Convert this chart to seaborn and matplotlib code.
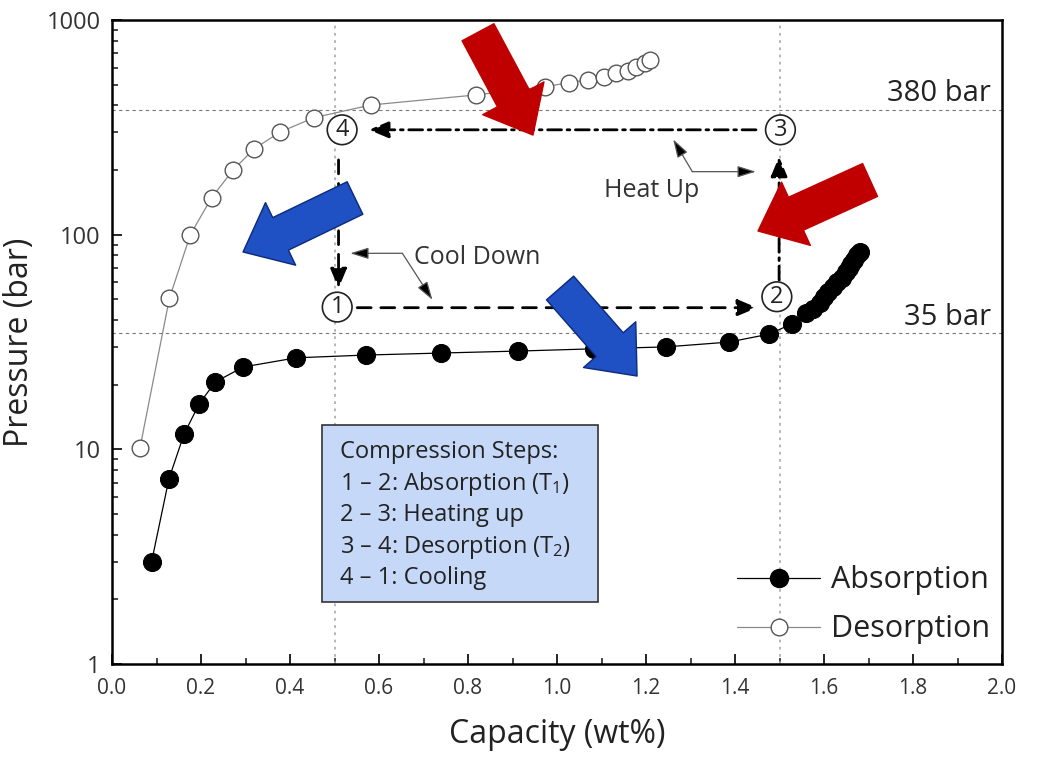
import numpy as np
import pandas as pd
import matplotlib
matplotlib.use("Agg")
import matplotlib.pyplot as plt
from matplotlib.lines import Line2D
from matplotlib.patches import Rectangle
from matplotlib.ticker import LogLocator, FuncFormatter, MultipleLocator
import seaborn as sns

# ---------------- data ----------------
abs_capacity = [0.089, 0.128, 0.162, 0.196, 0.232, 0.295, 0.414, 0.571, 0.740, 0.913,
                1.082, 1.244, 1.386, 1.476, 1.528,
                1.560, 1.575, 1.590, 1.600, 1.610, 1.620, 1.630, 1.640, 1.650, 1.655,
                1.660, 1.667, 1.673, 1.680]
abs_pressure = [3.0, 7.3, 11.8, 16.3, 20.6, 24.2, 26.7, 27.5, 28.1, 28.7,
                29.4, 30.0, 31.6, 34.4, 38.4,
                43, 45, 48, 51, 54, 57, 60, 63, 67, 70,
                73, 76, 80, 83]

des_capacity = [0.063, 0.129, 0.176, 0.224, 0.272, 0.319, 0.378, 0.454, 0.582, 0.819,
                0.972, 1.028, 1.069, 1.106, 1.133, 1.159, 1.178, 1.198, 1.209]
des_pressure = [10.2, 50.6, 100, 149, 200, 251, 301, 351, 402, 448,
                489, 511, 526, 545, 565, 581, 606, 632, 652]

ref_pressures = [380, 35]
ref_labels = ["380 bar", "35 bar"]
ref_capacities = [0.5, 1.5]

x_ticks = [0.0, 0.2, 0.4, 0.6, 0.8, 1.0, 1.2, 1.4, 1.6, 1.8, 2.0]
y_ticks = [1, 10, 100, 1000]

steps_text = ["Compression Steps:",
              r"1 – 2: Absorption (T$_1$)",
              "2 – 3: Heating up",
              r"3 – 4: Desorption (T$_2$)",
              "4 – 1: Cooling"]

# ---------------- style ----------------
sns.set_style("ticks")
plt.rcParams['font.family'] = ['Open Sans', 'DejaVu Sans']
plt.rcParams['mathtext.default'] = 'regular'

fig = plt.figure(figsize=(10.45, 7.76), dpi=100)
ax = fig.add_axes([0.1072, 0.1443, 0.8517, 0.8299])

df_abs = pd.DataFrame({"Capacity": abs_capacity, "Pressure": abs_pressure})
df_des = pd.DataFrame({"Capacity": des_capacity, "Pressure": des_pressure})

sns.lineplot(data=df_des, x="Capacity", y="Pressure", ax=ax, sort=False, estimator=None,
             color="#8a8a8a", lw=0.9, marker="o", markersize=12,
             markerfacecolor="white", markeredgecolor="#555555", markeredgewidth=1.0, zorder=3)
sns.lineplot(data=df_abs, x="Capacity", y="Pressure", ax=ax, sort=False, estimator=None,
             color="black", lw=0.9, marker="o", markersize=13,
             markerfacecolor="black", markeredgecolor="black", zorder=4)

ax.set_yscale("log")
ax.set_xlim(0, 2.0)
ax.set_ylim(1, 1000)

# reference lines
for p in ref_pressures:
    ax.axhline(p, color="#777777", lw=0.8, ls=(0, (3, 3)), zorder=1)
for c in ref_capacities:
    ax.axvline(c, color="#b0b0b0", lw=1.3, ls=(0, (1.5, 2.5)), zorder=1)
ax.text(1.975, 455, ref_labels[0], ha="right", va="center", fontsize=21, color="#222222")
ax.text(1.975, 41.0, ref_labels[1], ha="right", va="center", fontsize=21, color="#222222")

# ticks and spines
ax.set_xticks(x_ticks)
ax.xaxis.set_minor_locator(MultipleLocator(0.1))
ax.set_xticklabels([f"{v:.1f}" for v in x_ticks])
ax.set_yticks(y_ticks)
ax.yaxis.set_minor_locator(LogLocator(base=10, subs=np.arange(2, 10)))
ax.yaxis.set_major_formatter(FuncFormatter(lambda v, pos: f"{int(v)}"))
ax.tick_params(axis="both", which="major", direction="in", length=7, width=1.2,
               top=False, right=False, colors="black")
ax.tick_params(axis="both", which="minor", direction="in", length=4.5, width=1.2,
               top=False, right=False)
ax.tick_params(axis="y", labelsize=17, labelcolor="#333333", pad=8)
ax.tick_params(axis="x", labelsize=15, labelcolor="#333333", pad=10)
for s in ax.spines.values():
    s.set_visible(True)
    s.set_linewidth(1.8)
    s.set_color("black")

ax.set_xlabel("Capacity (wt%)", fontsize=23, color="#222222", labelpad=14)
ax.set_ylabel("Pressure (bar)", fontsize=23, color="#222222", labelpad=8)

# ---------------- cycle diagram ----------------
def cyc_arrow(x0, y0, x1, y1, ls):
    ax.annotate("", xy=(x1, y1), xytext=(x0, y0),
                arrowprops=dict(arrowstyle="-|>,head_length=0.6,head_width=0.25", lw=2.0,
                                ls=ls, color="black", shrinkA=0, shrinkB=0,
                                mutation_scale=20), zorder=5)

cyc_arrow(0.551, 45.7, 1.450, 45.7, (0, (5, 3.5)))
cyc_arrow(1.499, 61.5, 1.499, 231, (0, (5, 2, 1, 2)))
cyc_arrow(1.447, 308, 0.577, 308, (0, (5, 2, 1, 2)))
cyc_arrow(0.509, 223, 0.509, 56.2, (0, (5, 3.5)))

circ = dict(boxstyle="circle,pad=0.12", fc="white", ec="#222222", lw=1.2)
for lab, cx, cy in [("1", 0.506, 46.0), ("2", 1.494, 51.4), ("3", 1.502, 308), ("4", 0.517, 308)]:
    ax.text(cx, cy, lab, ha="center", va="center", fontsize=17, color="#222222",
            bbox=circ, zorder=6)

# pointer annotations
def pointer(vx, vy, hx, hy):
    ax.annotate("", xy=(hx, hy), xytext=(vx, vy),
                arrowprops=dict(arrowstyle="-|>,head_length=0.8,head_width=0.25",
                                lw=0.9, color="#777777", fc="black", ec="#555555",
                                shrinkA=0, shrinkB=0, mutation_scale=14), zorder=5)

pointer(1.304, 196.6, 1.261, 278)
pointer(1.304, 196.6, 1.4466, 196.6)
pointer(0.6524, 81.9, 0.5354, 81.9)
pointer(0.6524, 81.9, 0.720, 49.7)
ax.text(1.2126, 161, "Heat Up", ha="center", va="center", fontsize=18, color="#333333")
ax.text(0.678, 77.9, "Cool Down", ha="left", va="center", fontsize=18, color="#333333")

# big block arrows (axes fraction)
def block(tail, tip, fc, ec):
    ax.annotate("", xy=tip, xytext=tail, xycoords="axes fraction", textcoords="axes fraction",
                arrowprops=dict(arrowstyle="simple,head_length=3.0,head_width=5.0,tail_width=2.6",
                                fc=fc, ec=ec, lw=1.0, shrinkA=0, shrinkB=0, mutation_scale=10),
                annotation_clip=False, zorder=7)

block((0.4112, 0.981), (0.473, 0.8214), "#C00000", "#C00000")
block((0.8517, 0.7516), (0.7258, 0.6724), "#C00000", "#C00000")
block((0.273, 0.7236), (0.1472, 0.6398), "#1F50C4", "#0D2A7A")
block((0.5034, 0.5839), (0.5899, 0.4472), "#1F50C4", "#0D2A7A")

# steps box
ax.add_patch(Rectangle((0.236, 0.0963), 0.310, 0.2748, transform=ax.transAxes,
                       fc="#C6D8F7", ec="#333333", lw=1.2, zorder=6))
line_y = [0.3292, 0.2795, 0.2314, 0.1817, 0.1335]
for t, yy in zip(steps_text, line_y):
    ax.text(0.256, yy, t, transform=ax.transAxes, ha="left", va="center",
            fontsize=17, color="#222222", zorder=7)

# legend
handles = [Line2D([], [], color="black", lw=0.9, marker="o", markersize=13,
                  markerfacecolor="black", markeredgecolor="black"),
           Line2D([], [], color="#8a8a8a", lw=0.9, marker="o", markersize=12,
                  markerfacecolor="white", markeredgecolor="#555555")]
ax.legend(handles, ["Absorption", "Desorption"], loc="lower right",
          bbox_to_anchor=(1.017, -0.012), frameon=False, fontsize=22,
          handlelength=2.7, handletextpad=0.35, labelspacing=0.62, labelcolor="#222222")

fig.savefig("out.png", dpi=100)
